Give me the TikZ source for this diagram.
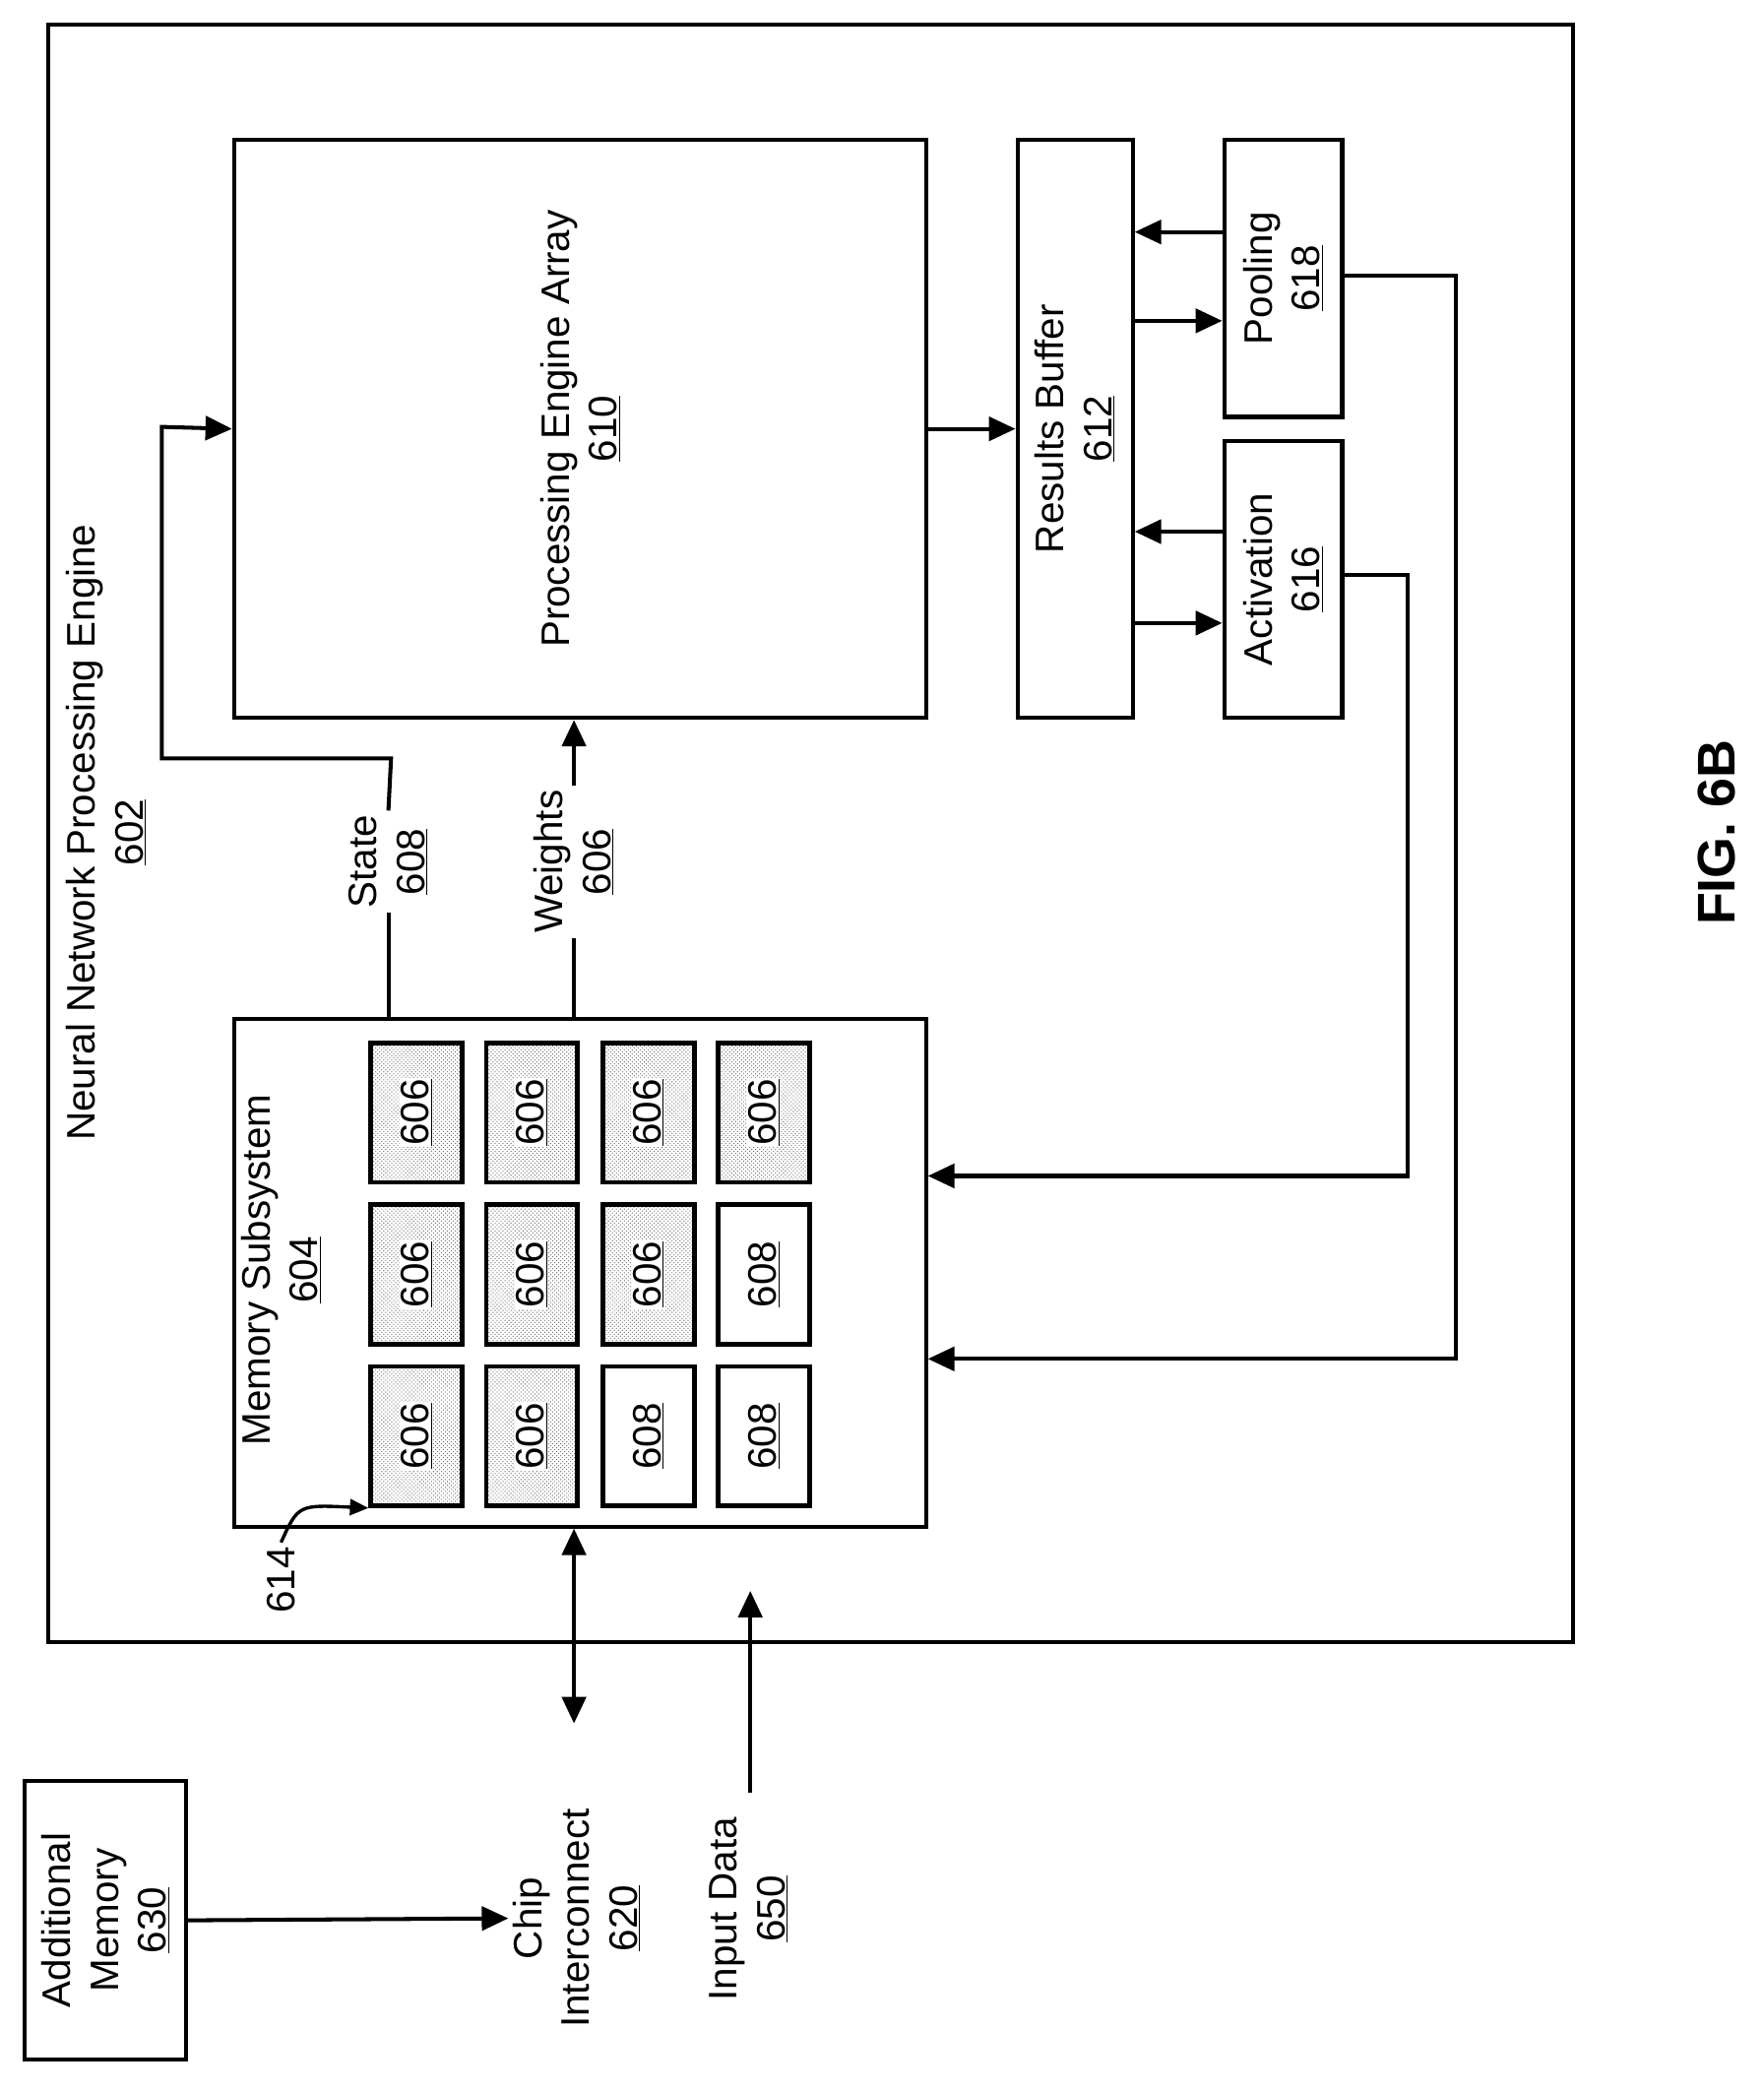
\documentclass[tikz,border=0pt]{standalone}
\usepackage{fontspec}
\setmainfont{Liberation Sans}
\usetikzlibrary{arrows.meta,patterns}
\begin{document}
\begin{tikzpicture}[x=1pt,y=-1pt,
  box/.style={draw,line width=3pt},
  cell/.style={draw,line width=3.5pt},
  ln/.style={line width=3pt},
  ar/.style={line width=3pt,-{Triangle[length=20pt,width=18pt]}},
  lbl/.style={rotate=90,align=center,font=\fontsize{30}{36}\selectfont}]
\useasboundingbox (0,0) rectangle (1330,1578);
\node[box,minimum width=1150pt,minimum height=1220pt,anchor=north west] (outer) at (35,17) {};
\node[lbl] (title) at (80,628) {Neural Network Processing Engine\\\underline{602}};
\node[box,anchor=north west,minimum width=522pt,minimum height=436pt] (pe) at (175,104) {};
\node[lbl] at (pe.center) {Processing Engine Array\\\underline{610}};
\node[box,anchor=north west,minimum width=87pt,minimum height=436pt] (rb) at (766,104) {};
\node[lbl] at (rb.center) {Results Buffer\\\underline{612}};
\node[box,anchor=north west,minimum width=89pt,minimum height=209pt] (pool) at (922,104) {};
\node[lbl] at (pool.center) {Pooling\\\underline{618}};
\node[box,anchor=north west,minimum width=89pt,minimum height=209pt] (act) at (922,331) {};
\node[lbl] at (act.center) {Activation\\\underline{616}};
\node[box,anchor=north west,minimum width=522pt,minimum height=383pt] (mem) at (175,767) {};
\node[lbl] (meml) at (212,958) {Memory Subsystem\\\underline{604}};
% cells
\foreach \c/\x in {1/278,2/365,3/453,4/540}{
  \foreach \r/\y in {1/785,2/907,3/1029}{
    \coordinate (p\c\r) at (\x,\y);
  }}
\foreach \c/\r/\t in {1/1/606,2/1/606,3/1/606,4/1/606,1/2/606,2/2/606,3/2/606,1/3/606,2/3/606}{
  \node[cell,anchor=north west,minimum width=69pt,minimum height=105pt,pattern=crosshatch dots,pattern color=black!55] (c\c\r) at (p\c\r) {};
  \node[lbl,fill=white,inner sep=1pt] at (c\c\r.center) {\underline{\t}};
}
\foreach \c/\r/\t in {4/2/608,3/3/608,4/3/608}{
  \node[cell,anchor=north west,minimum width=69pt,minimum height=105pt] (c\c\r) at (p\c\r) {};
  \node[lbl] at (c\c\r.center) {\underline{\t}};
}
\node[lbl] (n614) at (212,1192) {614};
\draw[line width=2.5pt,-{Triangle[length=14pt,width=12pt]}] (n614.east) .. controls (225,1135) .. (c13.south west);
% state / weights
\node[lbl] (state) at (293,650) {State\\\underline{608}};
\node[lbl] (wts) at (433,650) {Weights\\\underline{606}};
\draw[ln] (mem.north -| state) -- (state.west);
\draw[ar] (state.east) -- (295,572) -- (122,572) -- (122,322) -- (pe.west);
\draw[ln] (mem.north -| wts) -- (wts.west);
\draw[ar] (wts.east) -- (pe.south -| wts);
\draw[ar] (pe.east) -- (rb.west);
\draw[ar] (pool.west |- 0,175) -- (rb.east |- 0,175);
\draw[ar] (rb.east |- 0,242) -- (pool.west |- 0,242);
\draw[ar] (act.west |- 0,401) -- (rb.east |- 0,401);
\draw[ar] (rb.east |- 0,470) -- (act.west |- 0,470);
\draw[ar] (pool.east |- 0,208) -- (1098,208) -- (1098,1025) -- (mem.east |- 0,1025);
\draw[ar] (act.east |- 0,434) -- (1062,434) -- (1062,887) -- (mem.east |- 0,887);
% bottom
\node[box,anchor=north west,minimum width=122pt,minimum height=210pt] (am) at (17,1342) {};
\node[lbl] at (am.center) {Additional\\Memory\\\underline{630}};
\node[lbl] (ci) at (435,1447) {Chip\\Interconnect\\\underline{620}};
\node[lbl] (id) at (565,1440) {Input Data\\\underline{650}};
\draw[ar] (am.east) -- (ci.north);
\draw[line width=3pt,{Triangle[length=20pt,width=18pt]}-{Triangle[length=20pt,width=18pt]}] (433,1300) -- (mem.south -| 433,0);
\draw[ar] (566,1352) -- (566,1200);
\node[rotate=90,font=\fontsize{40}{48}\selectfont\bfseries] (fig) at (1295,628) {FIG. 6B};
\end{tikzpicture}
\end{document}
